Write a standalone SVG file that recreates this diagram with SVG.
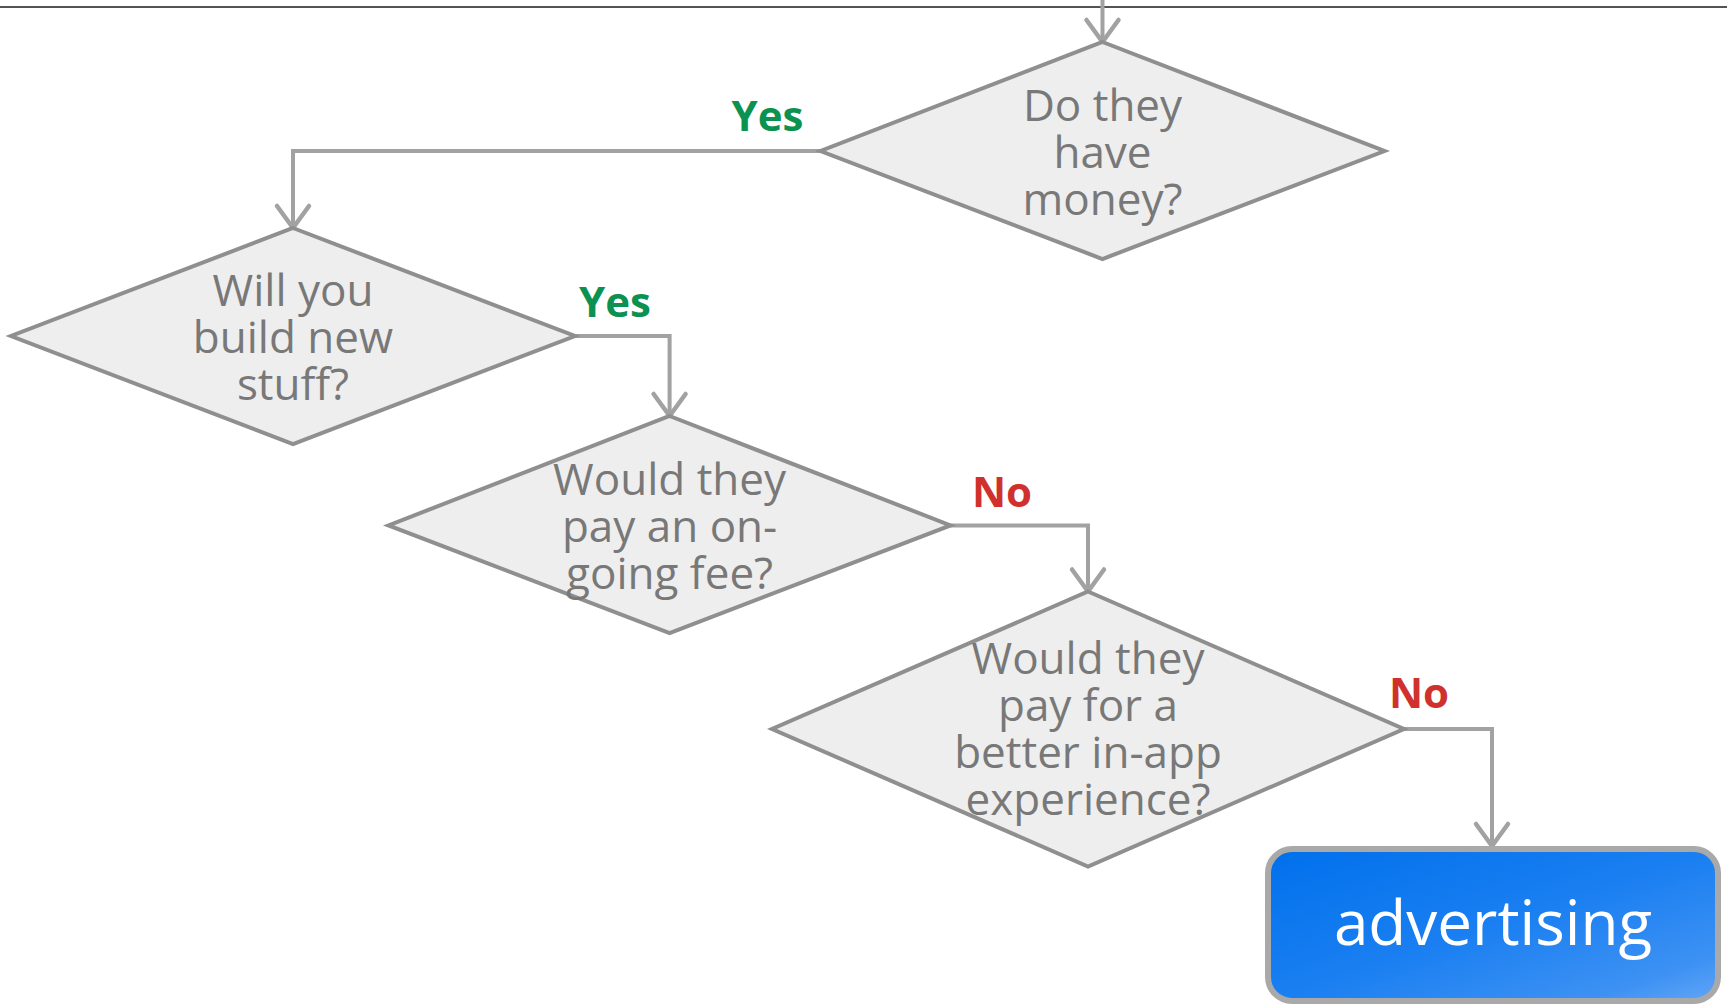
<svg xmlns="http://www.w3.org/2000/svg" width="1727" height="1008" viewBox="0 0 1727 1008">
  <style>
    .decision { fill: #eeeeee; stroke: #8f8f8f; stroke-width: 4; stroke-linejoin: miter; }
    .q { font-family: "Open Sans", "Noto Sans", "Liberation Sans", sans-serif; font-size: 44px; fill: #787878; text-anchor: middle; }
    .wire { fill: none; stroke: #a2a2a2; stroke-width: 4; }
    .yes { font-family: "Open Sans", "Noto Sans", "Liberation Sans", sans-serif; font-weight: bold; font-size: 42px; fill: #0b9150; text-anchor: middle; }
    .no { font-family: "Open Sans", "Noto Sans", "Liberation Sans", sans-serif; font-weight: bold; font-size: 42px; fill: #d0312d; text-anchor: middle; }
    .result { stroke: #a9a9a9; stroke-width: 6; }
    .result-text { font-family: "Open Sans", "Noto Sans", "Liberation Sans", sans-serif; font-size: 62px; fill: #ffffff; text-anchor: middle; }
  </style>
  <defs>
    <marker id="arrow" markerUnits="userSpaceOnUse" orient="auto" markerWidth="40" markerHeight="40" refX="0" refY="0" viewBox="-30 -20 40 40" overflow="visible">
      <path d="M-22,-16 L0,0 L-22,16" fill="none" stroke="#a2a2a2" stroke-width="4.5" stroke-linecap="round" stroke-linejoin="miter"/>
    </marker>
    <linearGradient id="blue" x1="0" y1="0" x2="1" y2="1">
      <stop offset="0" stop-color="#0070ec"/>
      <stop offset="0.5" stop-color="#1a7ff1"/>
      <stop offset="0.85" stop-color="#3d91f3"/>
      <stop offset="1" stop-color="#62a6f7"/>
    </linearGradient>
  </defs>

  <rect width="1727" height="1008" fill="#ffffff"/>
  <line x1="0" y1="7" x2="1727" y2="7" stroke="#1a1a1a" stroke-width="1.5"/>

  <g id="connectors">
    <path class="wire" d="M1102.5,0 V42" marker-end="url(#arrow)"/>
    <path class="wire" d="M820.5,151 H293 V228" marker-end="url(#arrow)"/>
    <path class="wire" d="M575,336 H669.6 V416" marker-end="url(#arrow)"/>
    <path class="wire" d="M950.5,525.4 H1088 V591.5" marker-end="url(#arrow)"/>
    <path class="wire" d="M1404,729 H1492 V846" marker-end="url(#arrow)"/>
    <text class="yes" x="767.5" y="131">Yes</text>
    <text class="yes" x="615" y="317">Yes</text>
    <text class="no" x="1002" y="507">No</text>
    <text class="no" x="1419" y="708">No</text>
  </g>

  <g id="have-money">
    <polygon class="decision" points="1102.5,42 1384.5,151 1102.5,259 820.5,151"/>
    <text class="q" x="1102.5" y="120.5">Do they</text>
    <text class="q" x="1102.5" y="167.5">have</text>
    <text class="q" x="1102.5" y="214.5">money?</text>
  </g>

  <g id="build-new">
    <polygon class="decision" points="293,228 575,336 293,444 11,336"/>
    <text class="q" x="293" y="305.5">Will you</text>
    <text class="q" x="293" y="352.5">build new</text>
    <text class="q" x="293" y="399.5">stuff?</text>
  </g>

  <g id="ongoing-fee">
    <polygon class="decision" points="669.6,416 950.5,525.4 669.6,633 388.5,525.4"/>
    <text class="q" x="669.6" y="495">Would they</text>
    <text class="q" x="669.6" y="542">pay an on-</text>
    <text class="q" x="669.6" y="589">going fee?</text>
  </g>

  <g id="in-app">
    <polygon class="decision" points="1088,591.5 1404,729 1088,866.5 772,729"/>
    <text class="q" x="1088" y="673.5">Would they</text>
    <text class="q" x="1088" y="720.5">pay for a</text>
    <text class="q" x="1088" y="767.5">better in-app</text>
    <text class="q" x="1088" y="814.5">experience?</text>
  </g>

  <g id="advertising">
    <rect class="result" x="1268" y="849" width="450" height="152" rx="24" fill="url(#blue)"/>
    <text class="result-text" x="1493" y="945">advertising</text>
  </g>
</svg>
